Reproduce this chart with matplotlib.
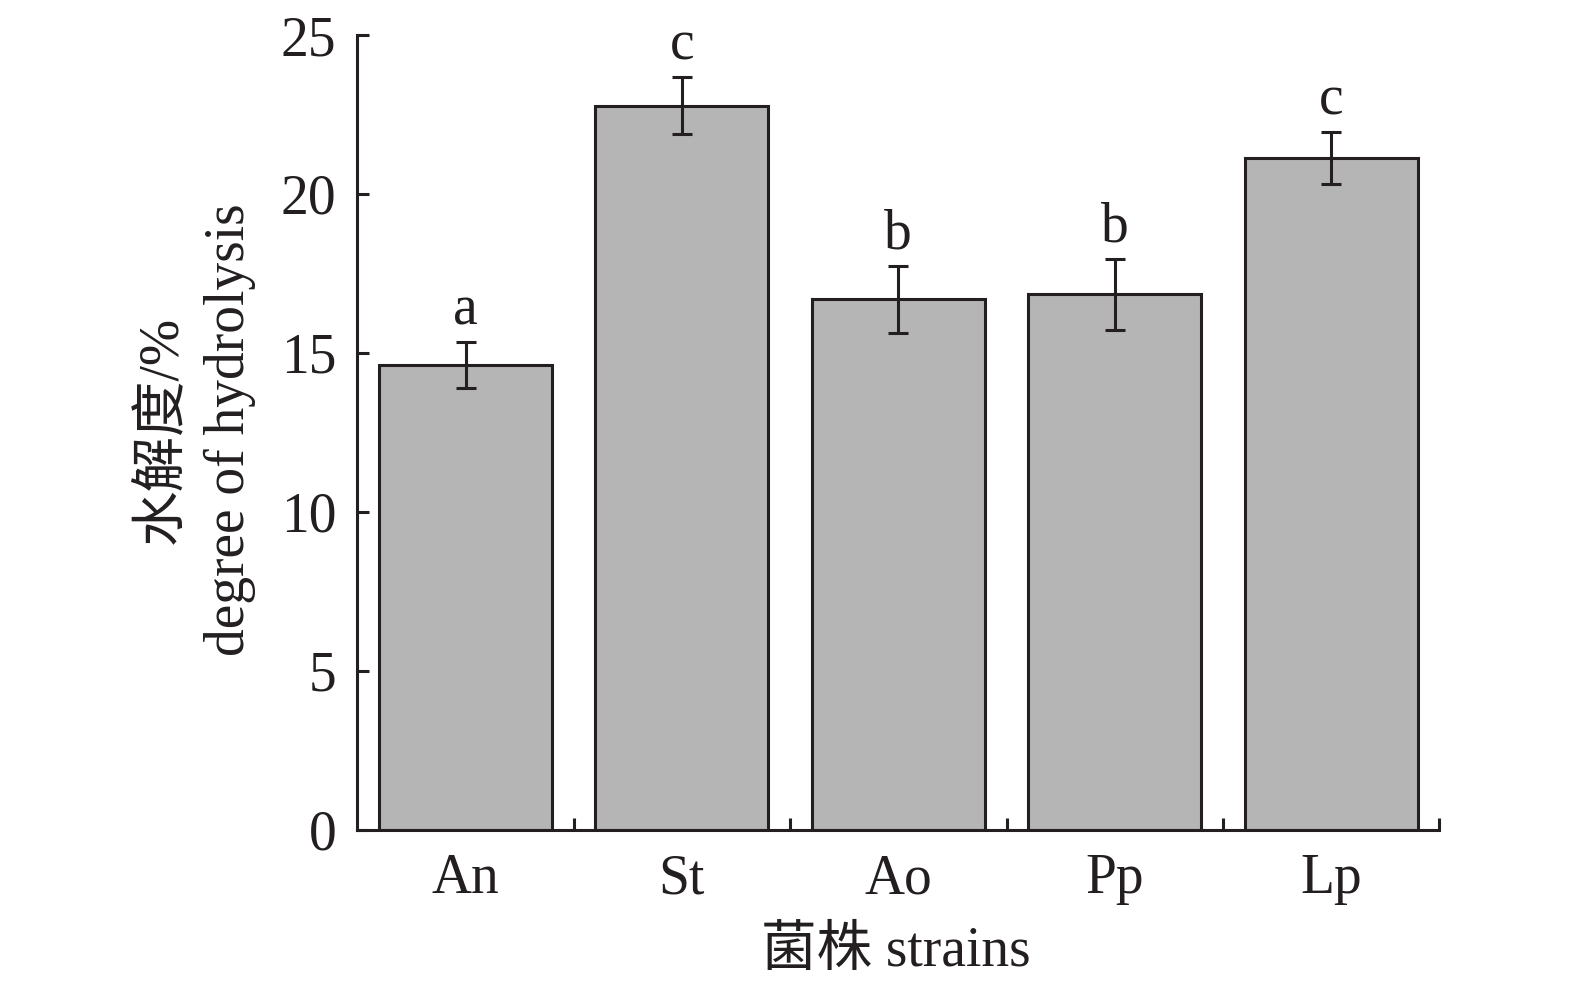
import matplotlib
matplotlib.use("Agg")
import matplotlib.pyplot as plt

categories = ["An", "St", "Ao", "Pp", "Lp"]
values = [14.61, 22.78, 16.68, 16.84, 21.14]
errors = [0.72, 0.91, 1.06, 1.12, 0.82]
letters = ["a", "c", "b", "b", "c"]
yticks = [0, 5, 10, 15, 20, 25]

plt.rcParams['font.family'] = ['Liberation Serif', 'Noto Sans CJK SC']
ink = '#231f20'
fs = 40

fig = plt.figure(figsize=(15.75, 9.9), dpi=100)
ax = fig.add_axes([357.3 / 1575, 160.5 / 990, 1082 / 1575, 794.5 / 990])

x = list(range(len(categories)))
ax.bar(x, values, width=0.8, color='#b5b5b5', edgecolor=ink, linewidth=2.2, zorder=2)
ax.errorbar(x, values, yerr=errors, fmt='none', ecolor=ink, elinewidth=2.2,
            capsize=7, capthick=2.2, zorder=3)
for xi, v, e, l in zip(x, values, errors, letters):
    ax.annotate(l, (xi, v + e), xytext=(0, 12.5), textcoords='offset points',
                ha='center', va='baseline', fontsize=fs, color=ink)

ax.set_xlim(-0.5, 4.5)
ax.set_ylim(0, 25)
ax.set_yticks(yticks)
ax.set_xticks(x)
ax.set_xticklabels(categories)
ax.set_xticks([0.5, 1.5, 2.5, 3.5, 4.5], minor=True)

for s in ['top', 'right']:
    ax.spines[s].set_visible(False)
for s in ['left', 'bottom']:
    ax.spines[s].set_linewidth(2.2)
    ax.spines[s].set_color(ink)

ax.tick_params(axis='y', direction='in', length=8.6, width=2.2, color=ink,
               labelsize=fs, labelcolor=ink, pad=15)
ax.tick_params(axis='x', which='major', length=0, labelsize=fs, labelcolor=ink, pad=17)
ax.tick_params(axis='x', which='minor', direction='in', length=8.6, width=2.2, color=ink)

fig.text(896 / 1575, 1 - 952 / 990, "菌株 strains", ha='center', va='center',
         fontsize=fs, color=ink)
fig.text(196 / 1575, 1 - 430 / 990, "水解度/%\ndegree of hydrolysis", ha='center',
         va='center', rotation=90, fontsize=fs, color=ink, linespacing=1.38,
         multialignment='center')

fig.savefig("out.png", dpi=100)
